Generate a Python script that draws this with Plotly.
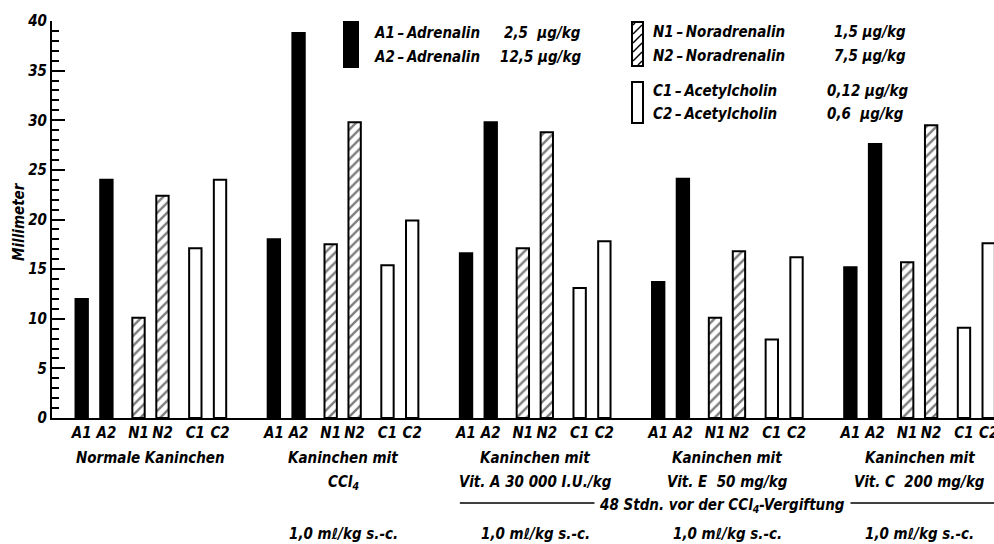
import plotly.graph_objects as go

# ---------------- data ----------------
groups_line1 = ["Normale Kaninchen", "Kaninchen mit", "Kaninchen mit", "Kaninchen mit", "Kaninchen mit"]
groups_line2 = ["", "CCl<sub>4</sub>", "Vit. A 30 000 I.U./kg", "Vit. E\u00a0\u00a050 mg/kg", "Vit. C\u00a0\u00a0200 mg/kg"]
dose_notes = ["", "1,0 m\u2113/kg s.-c.", "1,0 m\u2113/kg s.-c.", "1,0 m\u2113/kg s.-c.", "1,0 m\u2113/kg s.-c."]
bar_labels = ["A1", "A2", "N1", "N2", "C1", "C2"]

a1 = [12.0, 18.0, 16.6, 13.7, 15.2]
a2 = [24.0, 38.8, 29.8, 24.1, 27.6]
n1 = [10.1, 17.5, 17.1, 10.1, 15.7]
n2 = [22.4, 29.8, 28.8, 16.8, 29.5]
c1 = [17.1, 15.4, 13.1, 7.9, 9.1]
c2 = [24.0, 19.9, 17.8, 16.2, 17.6]

y_ticks = [0, 5, 10, 15, 20, 25, 30, 35, 40]
y_title = "Millimeter"

legend_rows = [
    ("A1\u2009\u2013\u2009Adrenalin", "2,5\u00a0\u00a0\u00b5g/kg"),
    ("A2\u2009\u2013\u2009Adrenalin", "12,5\u00a0\u00b5g/kg"),
    ("N1\u2009\u2013\u2009Noradrenalin", "1,5\u00a0\u00b5g/kg"),
    ("N2\u2009\u2013\u2009Noradrenalin", "7,5\u00a0\u00b5g/kg"),
    ("C1\u2009\u2013\u2009Acetylcholin", "0,12\u00a0\u00b5g/kg"),
    ("C2\u2009\u2013\u2009Acetylcholin", "0,6\u00a0\u00a0\u00b5g/kg"),
]
footnote = "48 Stdn. vor der CCl<sub>4</sub>-Vergiftung"

# ---------------- layout constants ----------------
W, H = 994, 544
ML, MR, MT, MB = 52, 0, 21, 126
PW, PH = W - ML - MR, H - MT - MB
GROUP_STEP = 7.78
OFFSETS = [0, 1, 2.3, 3.27, 4.6, 5.6]
UNIT_PX = 24.7
X0_PX = 81.7
XMIN = -(X0_PX - ML) / UNIT_PX
XMAX = (W - X0_PX) / UNIT_PX
BAR_W = 0.5
FONT = "DejaVu Sans Condensed, Liberation Sans Narrow, DejaVu Sans, sans-serif"


def pxx(x):
    return (x - ML) / PW


def pxy(y):
    return (H - MB - y) / PH


def xpos(k):
    return [g * GROUP_STEP + OFFSETS[k] for g in range(len(groups_line1))]


series = [a1, a2, n1, n2, c1, c2]
fig = go.Figure()
for k, vals in enumerate(series):
    kind = bar_labels[k][0]
    marker = dict(line=dict(color="black", width=2))
    if kind == "A":
        marker["color"] = "black"
    elif kind == "N":
        marker["color"] = "white"
        marker["pattern"] = dict(shape="/", fgcolor="black", bgcolor="white", size=7, solidity=0.35)
    else:
        marker["color"] = "white"
    fig.add_trace(go.Bar(x=xpos(k), y=vals, width=BAR_W, marker=marker,
                         name=bar_labels[k], showlegend=False, hoverinfo="skip"))

tickvals, ticktext = [], []
for g in range(len(groups_line1)):
    for k in range(6):
        tickvals.append(g * GROUP_STEP + OFFSETS[k])
        ticktext.append(bar_labels[k])

tfont = dict(family=FONT, size=15, color="black", style="italic", weight="bold")

annotations = []
shapes = []

# y-axis title
annotations.append(dict(x=pxx(19), y=pxy(222), xref="paper", yref="paper", text=y_title,
                        textangle=-90, showarrow=False, font=tfont,
                        xanchor="center", yanchor="middle"))

# group labels
for g in range(len(groups_line1)):
    cx = g * GROUP_STEP + (OFFSETS[0] + OFFSETS[-1]) / 2
    annotations.append(dict(x=cx, y=pxy(458), xref="x", yref="paper", text=groups_line1[g],
                            showarrow=False, font=tfont, xanchor="center", yanchor="middle"))
    if groups_line2[g]:
        annotations.append(dict(x=cx, y=pxy(482), xref="x", yref="paper", text=groups_line2[g],
                                showarrow=False, font=tfont, xanchor="center", yanchor="middle"))
    if dose_notes[g]:
        annotations.append(dict(x=cx, y=pxy(534), xref="x", yref="paper", text=dose_notes[g],
                                showarrow=False, font=tfont, xanchor="center", yanchor="middle"))

# "48 Stdn." bracket line
line_x0 = 2 * GROUP_STEP - 0.25
line_x1 = XMAX
shapes.append(dict(type="line", xref="x", yref="paper", x0=line_x0, x1=line_x1,
                   y0=pxy(503), y1=pxy(503), line=dict(color="black", width=1.5)))
annotations.append(dict(x=3 * GROUP_STEP + 2.6, y=pxy(505), xref="x", yref="paper", text=footnote,
                        showarrow=False, font=tfont, xanchor="center", yanchor="middle",
                        bgcolor="white", borderpad=5))

# legend boxes
shapes.append(dict(type="rect", xref="paper", yref="paper", x0=pxx(344), x1=pxx(358),
                   y0=pxy(67), y1=pxy(22), fillcolor="black", line=dict(color="black", width=2)))
hx0, hx1, hy0, hy1 = 632, 643, 22, 66
shapes.append(dict(type="rect", xref="paper", yref="paper", x0=pxx(hx0), x1=pxx(hx1),
                   y0=pxy(hy1), y1=pxy(hy0), fillcolor="white", line=dict(color="black", width=2)))
step = 9
wbox = hx1 - hx0
yb = hy0 + 4
while yb < hy1 + wbox:
    xs, ys, xe, ye = hx0, yb, hx1, yb - wbox
    if ys > hy1:
        xs += ys - hy1
        ys = hy1
    if ye < hy0:
        xe -= hy0 - ye
        ye = hy0
    if xe > xs:
        shapes.append(dict(type="line", xref="paper", yref="paper", x0=pxx(xs + 1), x1=pxx(xe - 1),
                           y0=pxy(ys - 1), y1=pxy(ye + 1), line=dict(color="black", width=1.5)))
    yb += step
shapes.append(dict(type="rect", xref="paper", yref="paper", x0=pxx(632), x1=pxx(643),
                   y0=pxy(123), y1=pxy(82), fillcolor="white", line=dict(color="black", width=2)))

# legend texts
leg_pos = [(372, 502, 33), (372, 498, 57), (651, 832, 32), (651, 832, 56), (651, 825, 91), (651, 825, 114)]
for (name, dose), (xn, xd, yy) in zip(legend_rows, leg_pos):
    annotations.append(dict(x=pxx(xn), y=pxy(yy), xref="paper", yref="paper", text=name,
                            showarrow=False, font=tfont, xanchor="left", yanchor="middle"))
    annotations.append(dict(x=pxx(xd), y=pxy(yy), xref="paper", yref="paper", text=dose,
                            showarrow=False, font=tfont, xanchor="left", yanchor="middle"))

fig.update_layout(
    width=W, height=H,
    margin=dict(l=ML, r=MR, t=MT, b=MB, pad=0, autoexpand=False),
    paper_bgcolor="white", plot_bgcolor="white",
    barmode="overlay",
    showlegend=False,
    xaxis=dict(range=[XMIN, XMAX], tickvals=tickvals, ticktext=ticktext, ticks="",
               tickangle=0, ticklabeloverflow="allow", showline=True, linecolor="black",
               linewidth=2, showgrid=False, zeroline=False, tickfont=tfont, fixedrange=True,
               automargin=False),
    yaxis=dict(range=[0, 40], tickvals=y_ticks, ticks="inside", ticklen=13, tickwidth=2,
               tickcolor="black", showline=True, linecolor="black", linewidth=2,
               showgrid=False, zeroline=False, tickfont=tfont,
               minor=dict(dtick=1, ticks="inside", ticklen=7, tickwidth=1.5, tickcolor="black",
                          showgrid=False),
               fixedrange=True, automargin=False),
    annotations=annotations,
    shapes=shapes,
)

fig.write_html("out.html", config={"displayModeBar": False},
               post_script="document.body.style.margin='0';document.body.style.overflow='hidden';")
